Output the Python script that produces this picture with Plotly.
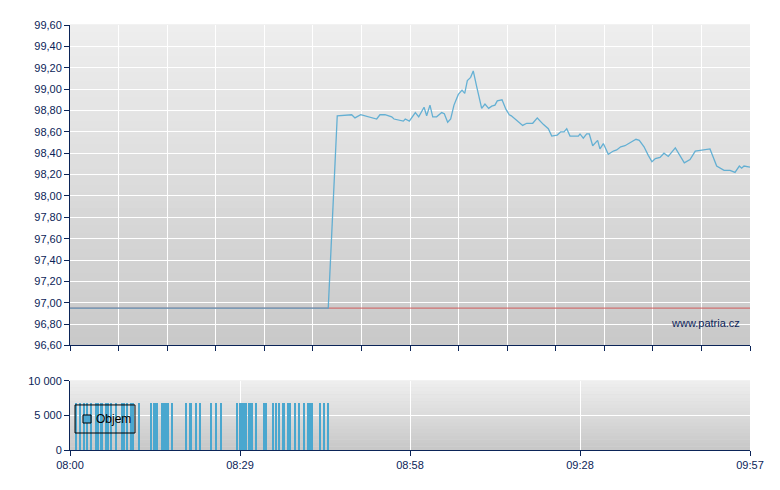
import plotly.graph_objects as go
import pandas as pd

DAY = "2024-01-01 "

# ---- price series ----
price_times = ["08:00:00", "08:44:26",
    "08:45:59", "08:48:28", "08:49:02", "08:50:01", "08:52:46", "08:53:20", "08:54:12", "08:55:21",
    "08:55:45", "08:57:21", "08:57:41", "08:58:23", "08:59:25", "09:00:00", "09:00:55", "09:01:22",
    "09:01:56", "09:02:25", "09:03:05", "09:03:57", "09:04:24", "09:04:59", "09:05:30", "09:06:04",
    "09:06:49", "09:07:27", "09:07:55", "09:08:22", "09:08:56", "09:09:23", "09:09:59", "09:10:50",
    "09:11:24", "09:12:02", "09:12:34", "09:13:07", "09:13:31", "09:14:20", "09:15:01", "09:15:35",
    "09:15:56", "09:16:52", "09:17:53", "09:18:35", "09:19:37", "09:20:24", "09:20:52", "09:21:26",
    "09:22:18", "09:22:53", "09:23:50", "09:24:26", "09:25:00", "09:25:28", "09:26:02", "09:27:28",
    "09:27:45", "09:28:19", "09:28:54", "09:29:21", "09:29:56", "09:30:47", "09:31:11", "09:31:46",
    "09:32:37", "09:33:29", "09:34:04", "09:34:45", "09:35:29", "09:36:28", "09:37:23", "09:37:57",
    "09:38:46", "09:39:30", "09:40:08", "09:40:43", "09:41:31", "09:42:12", "09:42:56", "09:44:09",
    "09:45:42", "09:46:41", "09:47:35", "09:50:07", "09:51:16", "09:52:32", "09:53:34", "09:54:25",
    "09:55:10", "09:55:34", "09:55:58", "09:57:00"]
price_values = [96.95, 96.95,
    98.75, 98.76, 98.73, 98.76, 98.72, 98.76, 98.76, 98.74,
    98.72, 98.70, 98.72, 98.70, 98.78, 98.74, 98.83, 98.75,
    98.85, 98.74, 98.74, 98.78, 98.77, 98.69, 98.72, 98.85,
    98.95, 98.99, 98.96, 99.08, 99.11, 99.17, 99.02, 98.82,
    98.86, 98.82, 98.84, 98.85, 98.89, 98.90, 98.81, 98.76,
    98.75, 98.71, 98.66, 98.68, 98.68, 98.73, 98.70, 98.67,
    98.63, 98.56, 98.57, 98.60, 98.60, 98.63, 98.56, 98.56,
    98.58, 98.54, 98.58, 98.58, 98.47, 98.52, 98.44, 98.49,
    98.39, 98.42, 98.43, 98.46, 98.47, 98.50, 98.53, 98.52,
    98.46, 98.38, 98.32, 98.35, 98.36, 98.40, 98.37, 98.45,
    98.31, 98.34, 98.42, 98.44, 98.28, 98.24, 98.24, 98.22,
    98.28, 98.26, 98.28, 98.27]

prev_close = 96.95

# ---- volume series ----
volume_times = ["08:01:02", "08:01:43", "08:02:25", "08:02:55", "08:03:32", "08:04:28", "08:04:49",
    "08:05:25", "08:06:07", "08:06:32", "08:07:03", "08:07:55", "08:08:52", "08:09:17", "08:09:49",
    "08:10:25", "08:10:45", "08:11:52", "08:13:56", "08:14:32", "08:14:53", "08:15:55", "08:16:26",
    "08:16:52", "08:17:33", "08:19:58", "08:20:44", "08:21:41", "08:22:22", "08:24:16", "08:25:07",
    "08:25:54", "08:28:44", "08:29:20", "08:29:51", "08:30:17", "08:30:53", "08:31:19", "08:32:00",
    "08:33:23", "08:33:43", "08:34:56", "08:35:26", "08:35:58", "08:36:44", "08:37:31", "08:37:51",
    "08:38:38", "08:39:29", "08:40:16", "08:40:57", "08:41:17", "08:41:38", "08:43:01", "08:43:42",
    "08:44:23"]
volume_values = [6800] * len(volume_times)

# ---- axis labels ----
start_time, end_time = "08:00:00", "09:57:00"
x_tick_text = ["08:00", "08:29", "08:58", "09:28", "09:57"]
price_ticks = [96.6 + 0.2 * i for i in range(16)]
price_tick_text = [f"{v:.2f}".replace(".", ",") for v in price_ticks]
vol_ticks = [0, 5000, 10000]
vol_tick_text = ["0", "5 000", "10 000"]

# ---- build ----
t0 = pd.Timestamp(DAY + start_time)
t1 = pd.Timestamp(DAY + end_time)
span = t1 - t0
main_ticks = [t0 + span * i / 14 for i in range(15)]
vol_xticks = [t0 + span * i / 4 for i in range(5)]

NAVY = "#0b2458"
BLUE = "#4ea7d1"

fig = go.Figure()
fig.add_trace(go.Scatter(x=[DAY + start_time, DAY + end_time], y=[prev_close, prev_close],
                         mode="lines", line=dict(color="#cf5a5a", width=1), xaxis="x", yaxis="y",
                         hoverinfo="skip"))
fig.add_trace(go.Scatter(x=[DAY + t for t in price_times], y=price_values, mode="lines",
                         line=dict(color=BLUE, width=1.3), opacity=0.85, xaxis="x", yaxis="y",
                         name="Cena"))
fig.add_trace(go.Bar(x=[DAY + t for t in volume_times], y=volume_values, width=21000,
                     marker=dict(color="#4aa7cf", line=dict(width=0)), xaxis="x2", yaxis="y2",
                     name="Objem"))

shapes = []
def gradient(xref, yref, top, bottom, n=40):
    for i in range(n):
        f = i / (n - 1)
        c = int(round(top + (bottom - top) * f))
        shapes.append(dict(type="rect", xref=xref, yref=yref, x0=0, x1=1,
                           y0=1 - (i + 1) / n, y1=1 - i / n + 0.002,
                           fillcolor=f"rgb({c},{c},{c})", line=dict(width=0), layer="below"))
gradient("x domain", "y domain", 238, 201)
gradient("x2 domain", "y2 domain", 238, 200, 20)

# manual legend box
shapes.append(dict(type="rect", xref="paper", yref="paper", x0=0.0074, x1=0.0956, y0=0.040, y1=0.106,
                   line=dict(color="black", width=1), fillcolor="rgba(0,0,0,0)", layer="above"))
shapes.append(dict(type="rect", xref="paper", yref="paper", x0=0.0191, x1=0.0309, y0=0.0635, y1=0.0824,
                   line=dict(color="black", width=1), fillcolor=BLUE, layer="above"))

axis_common = dict(showline=True, linecolor=NAVY, linewidth=1, ticks="outside", tickcolor=NAVY,
                   ticklen=5, gridcolor="white", gridwidth=1, zeroline=False,
                   tickfont=dict(color=NAVY, size=11))

fig.update_layout(
    width=780, height=490,
    margin=dict(l=62, r=38, t=17, b=48),
    paper_bgcolor="white", plot_bgcolor="#dddddd",
    font=dict(family="Liberation Sans, Arial, sans-serif", size=11, color=NAVY),
    showlegend=False,
    bargap=0,
    shapes=shapes,
    xaxis=dict(axis_common, type="date", range=[t0, t1], domain=[0, 1], anchor="y",
               tickmode="array", tickvals=main_ticks, showticklabels=False),
    yaxis=dict(axis_common, domain=[0.2459, 1], range=[96.6, 99.6], anchor="x",
               tickmode="array", tickvals=price_ticks, ticktext=price_tick_text),
    xaxis2=dict(axis_common, type="date", range=[t0, t1], domain=[0, 1], anchor="y2",
                tickmode="array", tickvals=vol_xticks, ticktext=x_tick_text),
    yaxis2=dict(axis_common, domain=[0, 0.163], range=[0, 10000], anchor="x2",
                tickmode="array", tickvals=vol_ticks, ticktext=vol_tick_text),
    annotations=[
        dict(text="www.patria.cz", xref="paper", yref="paper", x=0.9875, y=0.2985,
             xanchor="right", yanchor="middle", showarrow=False,
             font=dict(size=11, color=NAVY)),
        dict(text="Objem", xref="paper", yref="paper", x=0.0360, y=0.0729,
             xanchor="left", yanchor="middle", showarrow=False,
             font=dict(size=12, color="black")),
    ],
)

fig.write_html("out.html")
